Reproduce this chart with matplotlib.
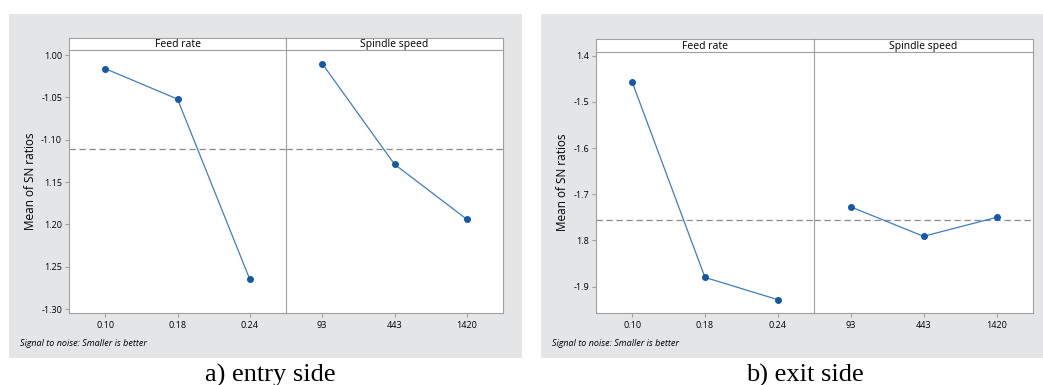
import matplotlib.pyplot as plt
from matplotlib.patches import Rectangle

# data
feed_levels = ["0.10", "0.18", "0.24"]
speed_levels = ["93", "443", "1420"]

entry_feed = [-1.016, -1.052, -1.265]
entry_speed = [-1.010, -1.129, -1.194]
exit_feed = [-1.458, -1.880, -1.928]
exit_speed = [-1.727, -1.791, -1.750]

entry_ticks = [-1.00, -1.05, -1.10, -1.15, -1.20, -1.25, -1.30]
entry_ticklabels = ["1.00", "-1.05", "-1.10", "1.15", "1.20", "1.25", "-1.30"]
exit_ticks = [-1.4, -1.5, -1.6, -1.7, -1.8, -1.9]
exit_ticklabels = ["1.4", "-1.5", "-1.6", "-1.7", "1.8", "-1.9"]

W, H = 1043, 385
fig = plt.figure(figsize=(W / 100, H / 100), dpi=100)
fig.patch.set_facecolor("white")

plt.rcParams["font.family"] = ["Open Sans", "DejaVu Sans"]

GREY_BG = "#e4e5e7"
SPINE = "#a0a0a0"
MARK = "#1558a6"
LINE = "#3f7dc0"


def px(x0, y0, x1, y1):
    return [x0 / W, 1 - y1 / H, (x1 - x0) / W, (y1 - y0) / H]


def panel(bg, left, mid, right, strip_top, top, bottom, feed, speed, ylim, ticks, ticklabels, caption, cap_x):
    fig.patches.append(Rectangle((bg[0] / W, 1 - bg[3] / H), (bg[2] - bg[0]) / W, (bg[3] - bg[1]) / H,
                                 transform=fig.transFigure, facecolor=GREY_BG, edgecolor="none", zorder=-5))
    mean = (sum(feed) + sum(speed)) / 6
    ax1 = fig.add_axes(px(left, top, mid, bottom))
    ax2 = fig.add_axes(px(mid, top, right, bottom), sharey=ax1)
    for ax, vals, labels in [(ax1, feed, feed_levels), (ax2, speed, speed_levels)]:
        xs = [1, 2, 3]
        ax.plot(xs, vals, color=LINE, lw=0.9, zorder=2)
        ax.plot(xs, vals, "o", color=MARK, ms=4, zorder=3)
        ax.axhline(mean, color="#8a8a8a", lw=0.9, ls=(0, (5, 3)), zorder=1)
        ax.set_xlim(0.5, 3.5)
        ax.set_xticks(xs)
        ax.set_xticklabels(labels, fontsize=6.5)
        ax.set_facecolor("white")
        for s in ["top", "right"]:
            ax.spines[s].set_visible(False)
        ax.spines["bottom"].set_color(SPINE)
        ax.spines["left"].set_color(SPINE)
        ax.tick_params(axis="x", length=3, color=SPINE, pad=3)
    ax1.set_ylim(*ylim)
    ax1.set_yticks(ticks)
    ax1.set_yticklabels(ticklabels, fontsize=6.5)
    ax1.tick_params(axis="y", length=3, color=SPINE, pad=2)
    ax2.tick_params(axis="y", left=False, labelleft=False)
    ax2.spines["right"].set_visible(True)
    ax2.spines["right"].set_color(SPINE)
    ax1.set_ylabel("Mean of SN ratios", fontsize=8.5, labelpad=3)

    # strips
    for x0, x1, name in [(left, mid, "Feed rate"), (mid, right, "Spindle speed")]:
        sa = fig.add_axes(px(x0, strip_top, x1, top))
        sa.set_xticks([])
        sa.set_yticks([])
        sa.set_facecolor("white")
        for s in sa.spines.values():
            s.set_color(SPINE)
        sa.text(0.5, 0.45, name, ha="center", va="center", fontsize=7.5, transform=sa.transAxes)

    fig.text((bg[0] + 11) / W, 1 - 344 / H, "Signal to noise: Smaller is better",
             fontsize=6.5, style="italic", ha="left", va="center")
    fig.text(cap_x / W, 1 - 375 / H, caption, fontsize=19, ha="center", va="center",
             family=["Liberation Serif", "DejaVu Serif"])


panel((9, 14, 522, 358), 69, 286, 503, 38, 50, 313, entry_feed, entry_speed,
      (-1.3047, -0.994), entry_ticks, entry_ticklabels, "a) entry side", 270)
panel((541, 14, 1043, 358), 596, 814, 1033, 39, 52, 313, exit_feed, exit_speed,
      (-1.957, -1.392), exit_ticks, exit_ticklabels, "b) exit side", 805)

fig.savefig("out.png", dpi=100, facecolor="white")
